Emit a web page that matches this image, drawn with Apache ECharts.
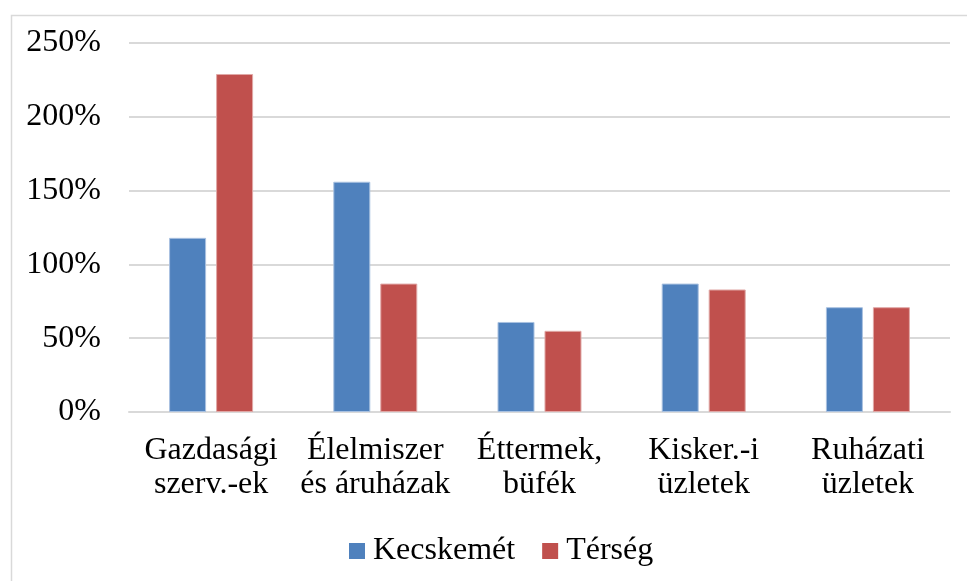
<!DOCTYPE html>
<html>
<head>
<meta charset="utf-8">
<script src="https://cdn.jsdelivr.net/npm/echarts@6/dist/echarts.min.js"></script>
<style>
  html, body { margin: 0; padding: 0; background: #fff; }
  #chart { width: 967px; height: 581px; }
</style>
</head>
<body>
<div id="chart"></div>
<script>
  // kategóriák (x tengely)
  var categories = ['Gazdasági\nszerv.-ek', 'Élelmiszer\nés áruházak', 'Éttermek,\nbüfék', 'Kisker.-i\nüzletek', 'Ruházati\nüzletek']
  // sorozatok, százalékban
  var kecskemet = [118, 156, 61, 87, 71]
  var terseg = [229, 87, 55, 83, 71]
  var seriesNames = ['Kecskemét', 'Térség']
  // y tengely
  var yMin = 0
  var yMax = 250
  var yStep = 50

  var font = 'Liberation Serif, Times New Roman, serif'
  var chart = echarts.init(document.getElementById('chart'))
  chart.setOption({
    animation: false,
    backgroundColor: '#fff',
    color: ['#4f81bd', '#c0504d'],
    graphic: [{
      type: 'rect',
      left: 9,
      top: 13,
      shape: { width: 980, height: 600 },
      style: { fill: 'none', stroke: '#d9d9d9', lineWidth: 1.5 },
      silent: true
    }],
    grid: {
      left: 129,
      right: 17,
      top: 43,
      bottom: 169,
      containLabel: false
    },
    legend: {
      data: seriesNames,
      left: 344,
      top: 530,
      icon: 'rect',
      itemWidth: 16,
      itemHeight: 16,
      itemGap: 27,
      itemStyle: { borderWidth: 0 },
      textStyle: { fontFamily: font, fontSize: 32, color: '#000', padding: [0, 0, 0, 3] }
    },
    xAxis: {
      type: 'category',
      data: categories,
      axisLine: { show: true, lineStyle: { color: '#d9d9d9', width: 2 } },
      axisTick: { show: false },
      axisLabel: {
        interval: 0,
        margin: 22,
        fontFamily: font,
        fontSize: 32,
        lineHeight: 34,
        color: '#000'
      }
    },
    yAxis: {
      type: 'value',
      min: yMin,
      max: yMax,
      interval: yStep,
      axisLine: { show: false },
      axisTick: { show: false },
      splitLine: { lineStyle: { color: '#d9d9d9', width: 2 } },
      axisLabel: {
        margin: 28,
        fontFamily: font,
        fontSize: 32,
        color: '#000',
        formatter: '{value}%'
      }
    },
    series: [{
      name: seriesNames[0],
      type: 'bar',
      data: kecskemet,
      barWidth: 37,
      barGap: '27%',
      itemStyle: { borderColor: '#a9c1e0', borderWidth: 1 }
    }, {
      name: seriesNames[1],
      type: 'bar',
      data: terseg,
      barWidth: 37,
      barGap: '27%',
      itemStyle: { borderColor: '#e0a8a6', borderWidth: 1 }
    }]
  })
</script>
</body>
</html>
